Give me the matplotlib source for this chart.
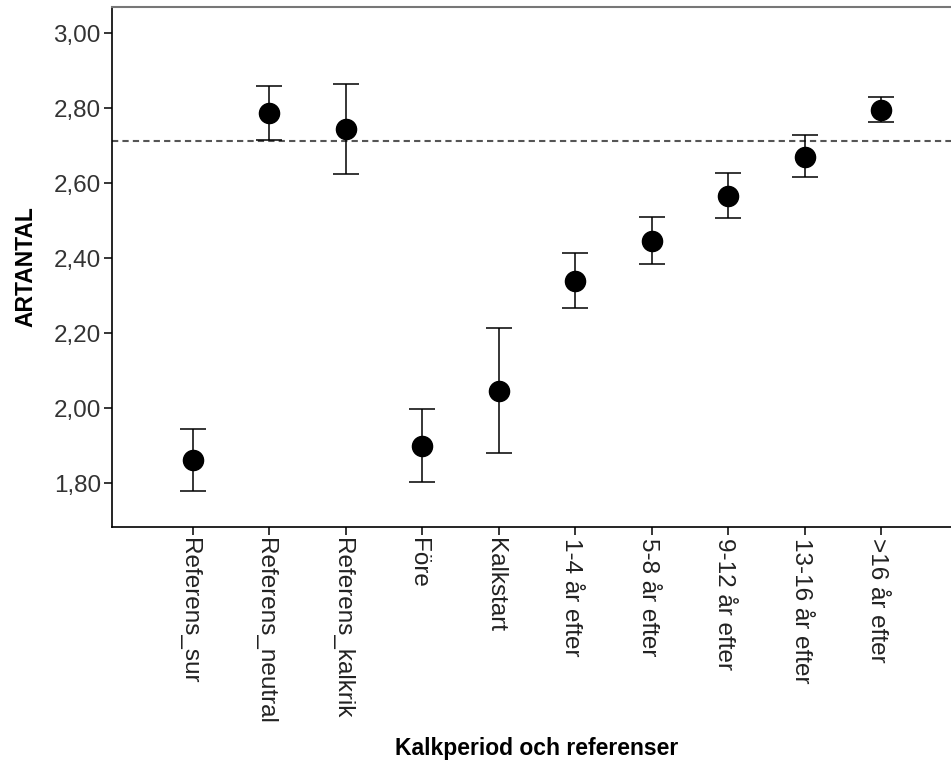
import numpy as np
import matplotlib
matplotlib.use("Agg")
import matplotlib.pyplot as plt
import matplotlib.transforms as mtransforms
from matplotlib.ticker import FuncFormatter

plt.rcParams['font.family'] = ['Liberation Sans', 'DejaVu Sans']

# categories and mean ARTANTAL with 95% CI
categories = ["Referens_sur", "Referens_neutral", "Referens_kalkrik", "Före", "Kalkstart",
              "1-4 år efter", "5-8 år efter", "9-12 år efter", "13-16 år efter", ">16 år efter"]
means = [1.862, 2.788, 2.745, 1.900, 2.046, 2.340, 2.446, 2.566, 2.671, 2.796]
ci_low = [1.779, 2.715, 2.625, 1.803, 1.880, 2.268, 2.384, 2.507, 2.616, 2.763]
ci_high = [1.945, 2.859, 2.864, 1.998, 2.213, 2.413, 2.511, 2.628, 2.729, 2.831]
reference_line = 2.714
yticks = [1.80, 2.00, 2.20, 2.40, 2.60, 2.80, 3.00]

x = np.arange(len(categories))
means = np.array(means)
yerr = np.array([means - np.array(ci_low), np.array(ci_high) - means])

fig = plt.figure(figsize=(9.51, 7.62), dpi=100)
ax = fig.add_axes([0.1178, 0.3084, 0.8938, 0.6824])

ax.axhline(reference_line, color="#555555", linestyle=(0, (3, 2)), linewidth=1.5, zorder=1)
ax.errorbar(x, means, yerr=yerr, fmt="o", color="black", markersize=14.5,
            ecolor="black", elinewidth=1.1, capsize=9.4, capthick=1.1, zorder=3)

ax.set_xlim(-1.06, len(categories) - 1 + 1.06)
ax.set_ylim(1.6835, 3.070)
ax.set_xticks(x)
ax.set_xticklabels(categories, rotation=270, ha="center", va="top")
ax.set_yticks(yticks)
ax.yaxis.set_major_formatter(FuncFormatter(lambda v, p: f"{v:.2f}".replace(".", ",")))

ax.tick_params(axis="both", direction="out", length=6, width=1.1, labelsize=17.5)
ax.tick_params(axis="x", pad=2, labelcolor="#222222")
ax.tick_params(axis="y", pad=2, labelcolor="#333333")
for side in ["left", "bottom"]:
    ax.spines[side].set_linewidth(1.2)
ax.spines["top"].set_color("#777777")
ax.spines["top"].set_linewidth(1.5)
ax.spines["right"].set_visible(False)

# nudge the rotated category labels slightly left, as in the original
shift = mtransforms.ScaledTranslation(-4 / 100, 0, fig.dpi_scale_trans)
for lbl in ax.get_xticklabels():
    lbl.set_transform(lbl.get_transform() + shift)

ax.set_ylabel("ARTANTAL", fontsize=16.5, fontweight="bold")
ax.set_xlabel("Kalkperiod och referenser", fontsize=16.5, fontweight="bold", va="top")
ax.yaxis.set_label_coords(-0.088, 0.5)
ax.xaxis.set_label_coords(0.5, -0.404)

fig.savefig("out.png", dpi=100)
